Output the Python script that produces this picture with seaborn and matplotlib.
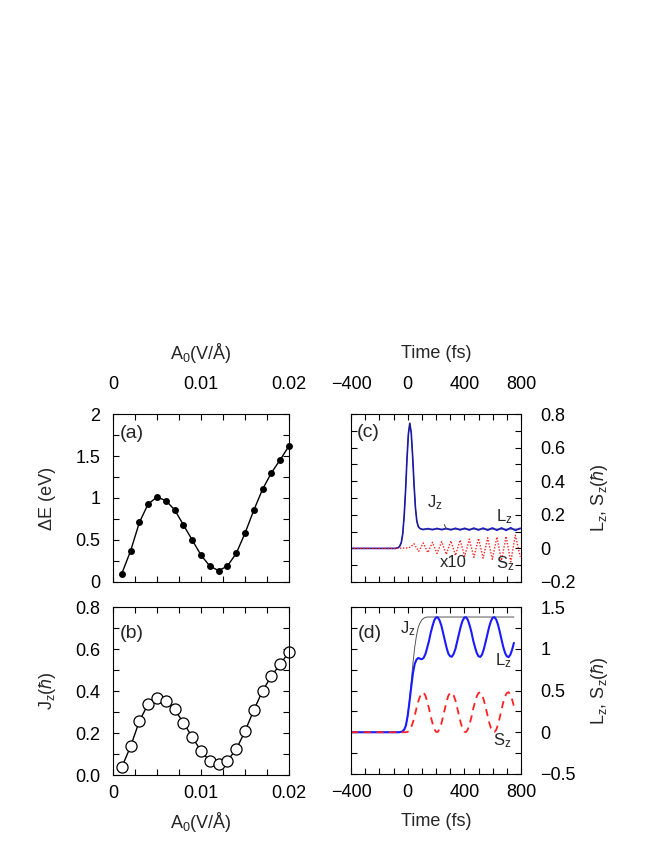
import numpy as np
import pandas as pd
import matplotlib
matplotlib.use("Agg")
import matplotlib.pyplot as plt
import seaborn as sns
from matplotlib.ticker import MultipleLocator, FuncFormatter

# ---------------- data: panels (a) and (b) ----------------
A0 = [0.001, 0.002, 0.003, 0.004, 0.005, 0.006, 0.007, 0.008, 0.009, 0.010,
      0.011, 0.012, 0.013, 0.014, 0.015, 0.016, 0.017, 0.018, 0.019, 0.020]
dE = [0.10, 0.37, 0.71, 0.93, 1.01, 0.97, 0.86, 0.68, 0.50, 0.32,
      0.19, 0.135, 0.19, 0.34, 0.58, 0.855, 1.105, 1.30, 1.455, 1.62]
Jz_A = [0.038, 0.136, 0.257, 0.339, 0.365, 0.354, 0.312, 0.249, 0.181, 0.114,
        0.067, 0.051, 0.068, 0.122, 0.208, 0.309, 0.401, 0.471, 0.528, 0.585]

# ---------------- data: panel (c) ----------------
t_c_L = [-400, -100, -85, -65, -55, -45, -35, -25, -15, -5, 5, 15, 25, 35, 45, 55,
         65, 75, 85, 95, 110, 142.5, 175, 207.5, 240, 272.5, 305, 337.5, 370,
         402.5, 435, 467.5, 500, 532.5, 565, 597.5, 630, 662.5, 695, 727.5, 760, 795]
Lz_c = [0, 0, 0.0, 0.005, 0.015, 0.035, 0.085, 0.19, 0.34, 0.53, 0.68, 0.745,
        0.69, 0.55, 0.38, 0.24, 0.16, 0.13, 0.12, 0.115, 0.112, 0.118, 0.111,
        0.119, 0.111, 0.119, 0.110, 0.120, 0.110, 0.120, 0.109, 0.121, 0.109,
        0.121, 0.108, 0.122, 0.108, 0.122, 0.107, 0.123, 0.107, 0.120]
t_c_J = [-400, -100, -85, -65, -55, -45, -35, -25, -15, -5, 5, 15, 25, 35, 45, 55,
         65, 75, 85, 95, 795]
Jz_c = [0, 0, 0.0, 0.005, 0.015, 0.035, 0.085, 0.19, 0.34, 0.53, 0.68, 0.745,
        0.69, 0.55, 0.38, 0.24, 0.16, 0.13, 0.12, 0.115, 0.115]
t_c_S = [-400, -80, 0, 20, 45, 77.5, 110, 142.5, 175, 207.5, 240, 272.5, 305,
         337.5, 370, 402.5, 435, 467.5, 500, 532.5, 565, 597.5, 630, 662.5, 695,
         727.5, 760, 795]
Sz_c = [0, 0, 0.003, 0.008, 0.028, -0.018, 0.032, -0.025, 0.036, -0.030, 0.040,
        -0.036, 0.045, -0.042, 0.050, -0.047, 0.055, -0.053, 0.060, -0.058, 0.063,
        -0.065, 0.068, -0.072, 0.072, -0.080, 0.078, -0.050]

# ---------------- data: panel (d) ----------------
t_d = [-400.0] + list(np.arange(-75.0, 750.1, 12.5))
Sz_d = [0, 0, 0, 0, 0, 0, 0,
        0.005, 0.02, 0.06, 0.12, 0.20, 0.29, 0.37, 0.43,
        0.47, 0.475, 0.44, 0.37, 0.29, 0.19, 0.11, 0.04,
        0.005, 0.004, 0.04, 0.10, 0.19, 0.28, 0.37, 0.44,
        0.47, 0.475, 0.44, 0.38, 0.29, 0.20, 0.11, 0.045,
        0.006, 0.003, 0.035, 0.10, 0.18, 0.28, 0.36, 0.43,
        0.47, 0.478, 0.45, 0.385, 0.30, 0.21, 0.12, 0.05,
        0.008, 0.002, 0.03, 0.09, 0.175, 0.27, 0.36, 0.43,
        0.47, 0.48, 0.45, 0.39, 0.31]
Jz_d = [0, 0, 0, 0.003, 0.01, 0.03, 0.08,
        0.20, 0.38, 0.60, 0.83, 1.02, 1.16, 1.26, 1.31,
        1.345, 1.365, 1.375, 1.38, 1.38, 1.38, 1.38, 1.38,
        1.38, 1.38, 1.38, 1.38, 1.38, 1.38, 1.38, 1.38,
        1.38, 1.38, 1.38, 1.38, 1.38, 1.38, 1.38, 1.38,
        1.38, 1.38, 1.38, 1.38, 1.38, 1.38, 1.38, 1.38,
        1.38, 1.38, 1.38, 1.38, 1.38, 1.38, 1.38, 1.38,
        1.38, 1.38, 1.38, 1.38, 1.38, 1.38, 1.38, 1.38,
        1.38, 1.38, 1.38, 1.38, 1.38]
Lz_d = [0, 0, 0, 0.003, 0.01, 0.03, 0.08,
        0.195, 0.36, 0.54, 0.71, 0.82, 0.87, 0.89, 0.88,
        0.875, 0.89, 0.935, 1.01, 1.09, 1.19, 1.27, 1.34,
        1.375, 1.376, 1.34, 1.28, 1.19, 1.10, 1.01, 0.94,
        0.91, 0.905, 0.94, 1.00, 1.09, 1.18, 1.27, 1.335,
        1.374, 1.377, 1.345, 1.28, 1.20, 1.10, 1.02, 0.95,
        0.91, 0.902, 0.93, 0.995, 1.08, 1.17, 1.26, 1.33,
        1.372, 1.378, 1.35, 1.29, 1.205, 1.11, 1.02, 0.95,
        0.91, 0.90, 0.93, 0.99, 1.07]

# ---------------- style ----------------
sns.set_theme(style="ticks")
plt.rcParams.update({
    "font.family": ["Liberation Sans", "DejaVu Sans"],
    "font.size": 13,
    "mathtext.fontset": "custom",
    "mathtext.rm": "Liberation Sans",
    "mathtext.it": "Liberation Sans:italic",
    "mathtext.bf": "Liberation Sans:bold",
    "mathtext.fallback": "stixsans",
    "axes.linewidth": 0.8,
    "axes.edgecolor": "black",
    "axes.unicode_minus": True,
})

W, H = 664, 860
fig = plt.figure(figsize=(W / 100, H / 100), dpi=100)


def px_axes(l, r, t, b):
    return fig.add_axes([l / W, 1 - b / H, (r - l) / W, (b - t) / H])


ax_a = px_axes(113, 289, 414, 582)
ax_b = px_axes(113, 289, 607, 775)
ax_c = px_axes(351, 521, 414, 582)
ax_d = px_axes(351, 521, 607, 774)

HBAR = "($\\hbar$)"
LS_LABEL = "L$_\\mathregular{z}$, S$_\\mathregular{z}$" + HBAR


def gfmt(v, pos=None):
    if abs(v) < 1e-12:
        return "0"
    return f"{v:g}".replace("-", "\u2212")


def style(ax, xlab_top, ylab_right):
    ax.tick_params(which="both", direction="in", length=4, width=0.8,
                   top=True, right=True, bottom=True, left=True,
                   labeltop=xlab_top, labelbottom=not xlab_top,
                   labelleft=not ylab_right, labelright=ylab_right,
                   labelsize=13, colors="black")
    ax.tick_params(axis="x", which="both", pad=15 if xlab_top else 7.5)
    ax.tick_params(axis="y", which="both", pad=14 if ylab_right else 9)
    for s in ax.spines.values():
        s.set_color("black")
        s.set_linewidth(0.8)


# ---------------- panel (a) ----------------
sns.lineplot(x=A0, y=dE, ax=ax_a, color="black", linewidth=1.0, marker="o",
             markersize=5, markeredgewidth=0, markerfacecolor="black", clip_on=False)
ax_a.set_xlim(0, 0.02)
ax_a.set_ylim(0, 2)
ax_a.xaxis.set_major_locator(MultipleLocator(0.01))
ax_a.xaxis.set_minor_locator(MultipleLocator(0.0025))
ax_a.yaxis.set_major_locator(MultipleLocator(0.5))
ax_a.yaxis.set_minor_locator(MultipleLocator(0.25))
ax_a.xaxis.set_major_formatter(FuncFormatter(gfmt))
ax_a.yaxis.set_major_formatter(FuncFormatter(gfmt))
style(ax_a, True, False)
ax_a.xaxis.set_label_position("top")
ax_a.set_xlabel("A$_\\mathregular{0}$(V/Å)", va="center", fontsize=13)
ax_a.xaxis.set_label_coords(0.5, (582 - 353) / 168)
ax_a.set_ylabel("ΔE (eV)", va="center", ha="center", fontsize=13)
ax_a.yaxis.set_label_coords((47 - 113) / 176, 0.5)
ax_a.text(0.0021, 1.77, "(a)", ha="center", va="center", fontsize=14)

# ---------------- panel (b) ----------------
sns.lineplot(x=A0, y=Jz_A, ax=ax_b, color="black", linewidth=1.0, marker="o",
             markersize=8, markeredgewidth=0.9, markerfacecolor="white",
             markeredgecolor="black", clip_on=False)
ax_b.set_xlim(0, 0.02)
ax_b.set_ylim(0, 0.8)
ax_b.xaxis.set_major_locator(MultipleLocator(0.01))
ax_b.xaxis.set_minor_locator(MultipleLocator(0.0025))
ax_b.yaxis.set_major_locator(MultipleLocator(0.2))
ax_b.yaxis.set_minor_locator(MultipleLocator(0.1))
ax_b.xaxis.set_major_formatter(FuncFormatter(gfmt))
ax_b.yaxis.set_major_formatter(FuncFormatter(lambda v, p: f"{v:.1f}"))
style(ax_b, False, False)
ax_b.set_xlabel("A$_\\mathregular{0}$(V/Å)", va="center", fontsize=13)
ax_b.xaxis.set_label_coords(0.5, (775 - 822) / 168)
ax_b.set_ylabel("J$_\\mathregular{z}$" + HBAR, va="center", ha="center", fontsize=13)
ax_b.yaxis.set_label_coords((47 - 113) / 176, 0.5)
ax_b.text(0.0021, 0.675, "(b)", ha="center", va="center", fontsize=14)

# ---------------- panel (c) ----------------
sns.lineplot(x=t_c_L, y=Lz_c, ax=ax_c, color="#1a1aff", linewidth=1.2)
sns.lineplot(x=t_c_J, y=Jz_c, ax=ax_c, color="#222244", linewidth=0.6)
sns.lineplot(x=t_c_S, y=Sz_c, ax=ax_c, color="#ff2020", linewidth=1.0,
             linestyle=(0, (1, 1.2)))
ax_c.set_xlim(-400, 800)
ax_c.set_ylim(-0.2, 0.8)
ax_c.xaxis.set_major_locator(MultipleLocator(400))
ax_c.xaxis.set_minor_locator(MultipleLocator(100))
ax_c.yaxis.set_major_locator(MultipleLocator(0.2))
ax_c.yaxis.set_minor_locator(MultipleLocator(0.1))
ax_c.xaxis.set_major_formatter(FuncFormatter(gfmt))
ax_c.yaxis.set_major_formatter(FuncFormatter(gfmt))
style(ax_c, True, True)
ax_c.xaxis.set_label_position("top")
ax_c.set_xlabel("Time (fs)", va="center", fontsize=13)
ax_c.xaxis.set_label_coords(0.5, (582 - 353) / 168)
ax_c.yaxis.set_label_position("right")
ax_c.set_ylabel(LS_LABEL, rotation=90, va="center", ha="center", fontsize=13)
ax_c.yaxis.set_label_coords((600 - 351) / 170, 0.5)
ax_c.text(-278, 0.69, "(c)", ha="center", va="center", fontsize=14)
ax_c.annotate("J$_\\mathregular{z}$", xy=(270, 0.12), xytext=(193, 0.27),
              ha="center", va="center", fontsize=12,
              arrowprops=dict(arrowstyle="-", color="#555555", lw=0.8,
                              shrinkA=7, shrinkB=0))
ax_c.text(680, 0.189, "L$_\\mathregular{z}$", ha="center", va="center", fontsize=12)
ax_c.text(322, -0.085, "x10", ha="center", va="center", fontsize=12)
ax_c.text(692, -0.089, "S$_\\mathregular{z}$", ha="center", va="center", fontsize=12)

# ---------------- panel (d) ----------------
sns.lineplot(x=t_d, y=Jz_d, ax=ax_d, color="#555555", linewidth=0.7)
sns.lineplot(x=t_d, y=Lz_d, ax=ax_d, color="#1a1aff", linewidth=1.5)
sns.lineplot(x=t_d, y=Sz_d, ax=ax_d, color="#ff2020", linewidth=1.3,
             linestyle=(0, (4, 3)))
ax_d.set_xlim(-400, 800)
ax_d.set_ylim(-0.5, 1.5)
ax_d.xaxis.set_major_locator(MultipleLocator(400))
ax_d.xaxis.set_minor_locator(MultipleLocator(100))
ax_d.yaxis.set_major_locator(MultipleLocator(0.5))
ax_d.yaxis.set_minor_locator(MultipleLocator(0.25))
ax_d.xaxis.set_major_formatter(FuncFormatter(gfmt))
ax_d.yaxis.set_major_formatter(FuncFormatter(gfmt))
style(ax_d, False, True)
ax_d.set_xlabel("Time (fs)", va="center", fontsize=13)
ax_d.xaxis.set_label_coords(0.5, (774 - 822) / 167)
ax_d.yaxis.set_label_position("right")
ax_d.set_ylabel(LS_LABEL, rotation=90, va="center", ha="center", fontsize=13)
ax_d.yaxis.set_label_coords((600 - 351) / 170, 0.5)
ax_d.text(-266, 1.18, "(d)", ha="center", va="center", fontsize=14)
ax_d.text(4.6, 1.242, "J$_\\mathregular{z}$", ha="center", va="center", fontsize=12)
ax_d.text(675, 0.863, "L$_\\mathregular{z}$", ha="center", va="center", fontsize=12)
ax_d.text(671, -0.102, "S$_\\mathregular{z}$", ha="center", va="center", fontsize=12)

fig.savefig("out.png", dpi=100)
